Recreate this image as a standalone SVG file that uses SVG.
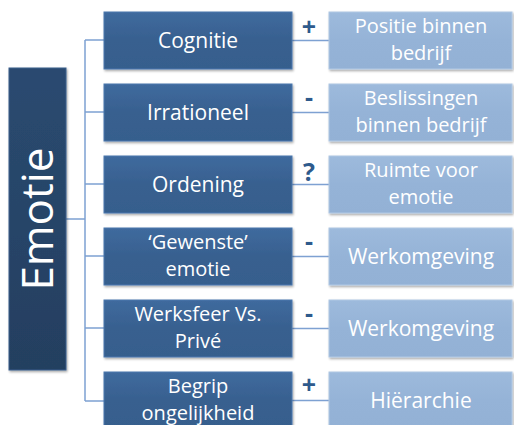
<svg xmlns="http://www.w3.org/2000/svg" width="514" height="425" viewBox="0 0 514 425">
<defs>
<linearGradient id="gMid" x1="0" y1="0" x2="0" y2="1">
<stop offset="0" stop-color="#3F6A9E"/><stop offset="0.5" stop-color="#38608F"/><stop offset="1" stop-color="#365E8D"/>
</linearGradient>
<linearGradient id="gRoot" x1="0" y1="0" x2="0" y2="1">
<stop offset="0" stop-color="#2A4A70"/><stop offset="1" stop-color="#243F60"/>
</linearGradient>
<linearGradient id="gRight" x1="0" y1="0" x2="0" y2="1">
<stop offset="0" stop-color="#9DBADC"/><stop offset="0.5" stop-color="#95B3D7"/><stop offset="1" stop-color="#93B1D5"/>
</linearGradient>
<filter id="sh" x="-10%" y="-10%" width="130%" height="130%">
<feDropShadow dx="1" dy="1.5" stdDeviation="1" flood-color="#000" flood-opacity="0.35"/>
</filter>
</defs>
<style>
.mid{fill:url(#gMid);stroke:#4A78AE;stroke-width:1;filter:url(#sh)}
.root{fill:url(#gRoot);stroke:#3A5F8C;stroke-width:1;filter:url(#sh)}
.right{fill:url(#gRight);stroke:#B0C8E4;stroke-width:1;filter:url(#sh)}
.t{font-family:"Open Sans","Liberation Sans",sans-serif;font-size:21px;fill:#fff;text-anchor:middle}
.t2{font-family:"Open Sans","Liberation Sans",sans-serif;font-size:20px;fill:#fff;text-anchor:middle}
.sign{font-family:"Open Sans","Liberation Sans",sans-serif;font-size:25px;font-weight:bold;fill:#2E5A8C;text-anchor:middle}
.c{fill:none;stroke:#7EA1D2;stroke-width:1.5}
</style>
<g id="connectors">
<path class="c" d="M66 219 H85 M85 40 V401 M85 40 H104 M85 112 H104 M85 184 H104 M85 256 H104 M85 328 H104 M85 401 H104"/>
<path class="c" d="M292 40.5 H329 M292 112.5 H329 M292 184.5 H329 M292 256.5 H329 M292 328.5 H329 M292 400.5 H329"/>
</g>
<g id="emotie">
<rect class="root" x="9" y="68" width="57" height="302"/>
<text transform="translate(53,219) rotate(-90)" style="font-family:'Open Sans','Liberation Sans',sans-serif;font-size:44px;fill:#fff;text-anchor:middle">Emotie</text>
</g>
<g id="cognitie"><rect class="mid" x="104" y="12" width="188" height="57"/><text class="t" x="198" y="48">Cognitie</text></g>
<g id="irrationeel"><rect class="mid" x="104" y="84" width="188" height="57"/><text class="t" x="198" y="120">Irrationeel</text></g>
<g id="ordening"><rect class="mid" x="104" y="156" width="188" height="57"/><text class="t" x="198" y="192">Ordening</text></g>
<g id="gewenste"><rect class="mid" x="104" y="228" width="188" height="57"/><text class="t2" x="198" y="249">‘Gewenste’</text><text class="t2" x="198" y="276">emotie</text></g>
<g id="werksfeer"><rect class="mid" x="104" y="300" width="188" height="57"/><text class="t2" x="198" y="321">Werksfeer Vs.</text><text class="t2" x="198" y="348">Privé</text></g>
<g id="begrip"><rect class="mid" x="104" y="372" width="188" height="57"/><text class="t2" x="198" y="393">Begrip</text><text class="t2" x="198" y="420">ongelijkheid</text></g>
<g id="positie"><rect class="right" x="329" y="12" width="183" height="57"/><text class="t2" x="421" y="33">Positie binnen</text><text class="t2" x="421" y="60">bedrijf</text></g>
<g id="beslissingen"><rect class="right" x="329" y="84" width="183" height="57"/><text class="t2" x="421" y="105">Beslissingen</text><text class="t2" x="421" y="132">binnen bedrijf</text></g>
<g id="ruimte"><rect class="right" x="329" y="156" width="183" height="57"/><text class="t2" x="421" y="177">Ruimte voor</text><text class="t2" x="421" y="204">emotie</text></g>
<g id="werkomgeving1"><rect class="right" x="329" y="228" width="183" height="57"/><text class="t" x="421" y="264">Werkomgeving</text></g>
<g id="werkomgeving2"><rect class="right" x="329" y="300" width="183" height="57"/><text class="t" x="421" y="336">Werkomgeving</text></g>
<g id="hierarchie"><rect class="right" x="329" y="372" width="183" height="57"/><text class="t" x="421" y="408">Hiërarchie</text></g>
<g id="signs">
<text class="sign" x="309" y="36">+</text>
<text class="sign" x="309" y="106">-</text>
<text class="sign" x="309" y="181">?</text>
<text class="sign" x="309" y="250">-</text>
<text class="sign" x="309" y="322">-</text>
<text class="sign" x="309" y="394">+</text>
</g>
</svg>
